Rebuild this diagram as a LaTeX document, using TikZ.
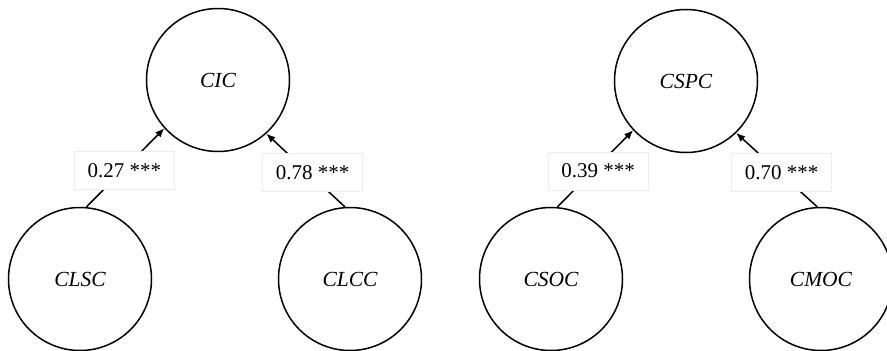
\documentclass[tikz,border=0pt]{standalone}
\usepackage{fontspec}
\setmainfont{Liberation Serif}
\usetikzlibrary{arrows.meta}

\begin{document}
\begin{tikzpicture}[
  x=1pt, y=-1pt,
  latent/.style={circle, draw=black, line width=1.5pt, minimum size=143pt,
    inner sep=0pt, font=\fontsize{21.5}{21.5}\selectfont\itshape},
  path/.style={line width=1.5pt, -{Latex[length=9pt,width=7.5pt]}},
  coef/.style={fill=white, draw=black!7, line width=0.8pt, minimum width=100pt,
    minimum height=38pt, inner sep=0pt, font=\fontsize{21}{21}\selectfont}
]
\useasboundingbox (0,0) rectangle (887,351);
\clip (0,0) rectangle (887,351);

% left model
\node[latent] (cic)  at (218,80)  {CIC};
\node[latent] (clsc) at (80,279)  {CLSC};
\node[latent] (clcc) at (350,279) {CLCC};

% right model
\node[latent] (cspc) at (686,81)  {CSPC};
\node[latent] (csoc) at (551,279) {CSOC};
\node[latent] (cmoc) at (821,279) {CMOC};

% structural paths with standardized coefficients
\draw[path] (clsc.85) -- (cic.222)
  node[coef, pos=0.5, xshift=-1pt, yshift=-2.5pt] (k1) {0.27 ***};
\draw[path] (clcc.94) -- (cic.312)
  node[coef, pos=0.5, xshift=7pt, yshift=-2.5pt] (k2) {0.78 ***};
\draw[path] (csoc.85) -- (cspc.223)
  node[coef, pos=0.5, xshift=3pt, yshift=-2.5pt] (k3) {0.39 ***};
\draw[path] (cmoc.93) -- (cspc.314)
  node[coef, pos=0.5, xshift=5pt, yshift=-2.5pt] (k4) {0.70 ***};
\end{tikzpicture}
\end{document}
